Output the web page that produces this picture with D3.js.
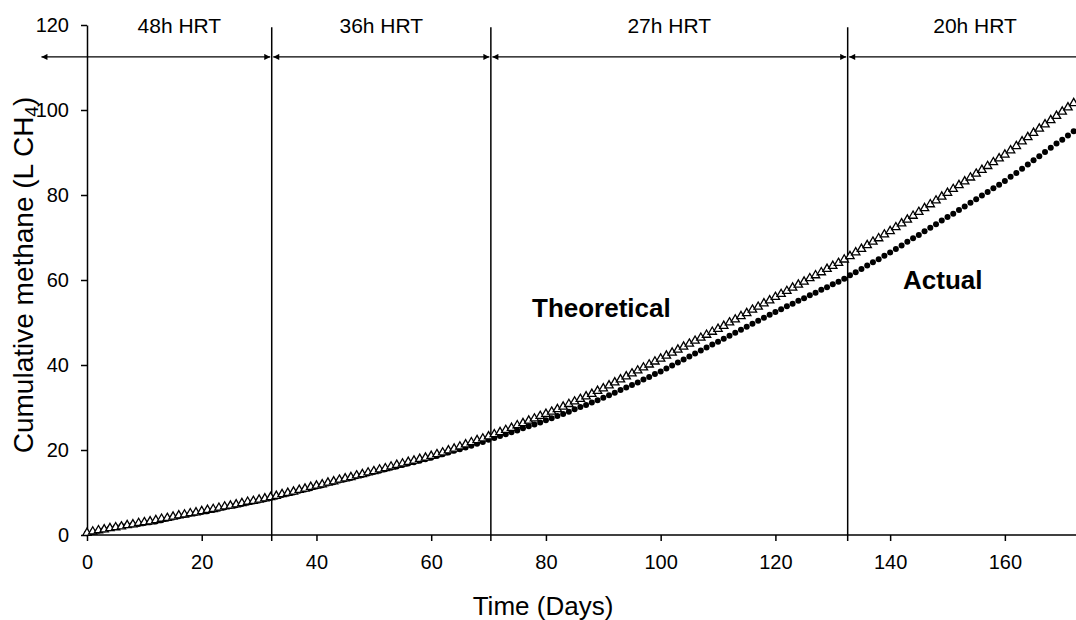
<!DOCTYPE html>
<meta charset="utf-8">
<html>
<head>
	<script src="https://d3js.org/d3.v7.min.js"></script>
	<style>
		body { margin: 0; background: #fff; }
		text { font-family: Arial, "Liberation Sans", sans-serif; fill: #000; }
	</style>
</head>
<body>
<div id="chart"></div>
<script>

// cumulative methane, one value per day starting at day 0
var theoretical = [
  0.5,0.8,1.1,1.3,1.6,1.8,2.0,2.3,2.5,2.8,3.0,
  3.2,3.5,3.8,4.0,4.3,4.6,4.8,5.1,5.3,5.6,
  5.9,6.1,6.4,6.7,6.9,7.2,7.5,7.8,8.0,8.3,8.6,8.9,
  9.2,9.6,9.9,10.2,10.6,10.9,11.3,11.6,
  11.9,12.3,12.6,13.0,13.3,13.6,14.0,14.3,14.7,15.0,
  15.4,15.7,16.1,16.5,16.8,17.2,17.5,17.9,18.2,18.6,
  19.0,19.4,19.9,20.3,20.8,21.3,21.8,22.3,22.7,23.2,
  23.7,24.2,24.7,25.2,25.8,26.3,26.9,27.4,28.0,28.5,
  29.0,29.6,30.2,30.8,31.4,32.0,32.6,33.2,33.9,34.5,
  35.2,35.9,36.6,37.3,38.0,38.7,39.4,40.1,40.8,41.5,
  42.2,42.9,43.6,44.3,45.0,45.7,46.4,47.1,47.8,48.5,
  49.2,50.0,50.7,51.5,52.2,53.0,53.7,54.5,55.2,56.0,
  56.7,57.4,58.2,58.9,59.6,60.4,61.1,61.8,62.6,63.3,64.0,64.8,
  65.6,66.5,67.3,68.2,69.0,69.8,70.7,71.5,
  72.4,73.3,74.2,75.1,76.0,76.9,77.8,78.7,79.6,80.5,
  81.4,82.3,83.2,84.1,85.0,85.9,86.8,87.7,88.6,89.5,
  90.5,91.5,92.6,93.6,94.6,95.6,96.6,97.6,98.6,99.6,100.6,101.6
];
var actual = [
  0.4,0.7,1.0,1.3,1.6,1.9,2.1,2.3,2.5,2.6,2.8,
  3.0,3.2,3.5,3.8,4.1,4.4,4.7,5.0,5.2,5.4,
  5.6,5.9,6.2,6.5,6.8,7.0,7.3,7.6,7.9,8.1,8.4,8.7,
  9.0,9.4,9.7,10.0,10.4,10.7,11.0,11.4,
  11.7,12.1,12.4,12.8,13.1,13.4,13.8,14.1,14.5,14.8,
  15.1,15.5,15.8,16.1,16.5,16.8,17.1,17.5,17.8,18.2,
  18.6,19.0,19.4,19.8,20.2,20.6,21.0,21.5,21.9,22.4,
  22.8,23.3,23.7,24.2,24.6,25.1,25.6,26.0,26.5,27.0,
  27.5,28.0,28.5,29.0,29.6,30.1,30.6,31.2,31.7,32.3,
  32.9,33.5,34.1,34.7,35.3,35.9,36.6,37.2,37.9,38.5,
  39.2,39.9,40.6,41.3,42.0,42.7,43.4,44.1,44.8,45.5,
  46.2,46.9,47.6,48.3,49.0,49.7,50.4,51.1,51.8,52.5,
  53.1,53.8,54.4,55.1,55.7,56.4,57.0,57.7,58.3,59.0,59.6,60.3,
  61.1,61.8,62.6,63.4,64.2,64.9,65.7,66.5,
  67.3,68.1,69.0,69.8,70.6,71.5,72.3,73.1,74.0,74.8,
  75.6,76.5,77.3,78.2,79.0,79.9,80.7,81.6,82.4,83.3,
  84.3,85.2,86.2,87.2,88.2,89.1,90.1,91.1,92.1,93.0,94.0,95.0
];

// HRT periods (day boundaries) and their labels
var periodLabels = ["48h HRT", "36h HRT", "27h HRT", "20h HRT"];
var periodBounds = [0, 32.2, 70.4, 132.6, 177];
var arrowStart = -8.2;
var xTicks = [0, 20, 40, 60, 80, 100, 120, 140, 160];
var yTicks = [0, 20, 40, 60, 80, 100, 120];

var width = 1076, height = 620;
var margin = {top: 25, right: 0, bottom: 85, left: 87};

var svg = d3.select("#chart")
  .append("svg")
    .attr("width", width)
    .attr("height", height);

var x = d3.scaleLinear()
  .domain([0, 172.4])
  .range([margin.left, width - margin.right]);

var y = d3.scaleLinear()
  .domain([0, 120])
  .range([height - margin.bottom, margin.top]);

// axes
var xAxis = svg.append("g")
  .attr("transform", "translate(0," + y(0) + ")")
  .call(d3.axisBottom(x).tickValues(xTicks).tickSize(6).tickPadding(14).tickSizeOuter(0));
var yAxis = svg.append("g")
  .attr("transform", "translate(" + x(0) + ",0)")
  .call(d3.axisLeft(y).tickValues(yTicks).tickSize(6).tickPadding(12).tickSizeOuter(0));

[xAxis, yAxis].forEach(function(a) {
  a.select(".domain").attr("stroke", "#000").attr("stroke-width", 1.5);
  a.selectAll(".tick line").attr("stroke", "#000").attr("stroke-width", 1.5);
  a.selectAll(".tick text").style("font-size", "20px").attr("fill", "#000");
});
xAxis.select(".domain").attr("d", "M" + x(0) + ",0H" + width);
yAxis.selectAll(".tick text").attr("x", -18);

// vertical period separators
svg.selectAll("line.sep")
  .data(periodBounds.slice(1, 4))
  .enter()
  .append("line")
    .attr("class", "sep")
    .attr("x1", function(d) { return x(d); })
    .attr("x2", function(d) { return x(d); })
    .attr("y1", y(119.5))
    .attr("y2", y(-1.4))
    .attr("stroke", "#000")
    .attr("stroke-width", 1.5);

// arrow heads
var defs = svg.append("defs");
defs.append("marker")
    .attr("id", "ah")
    .attr("viewBox", "0 0 10 10")
    .attr("refX", 10)
    .attr("refY", 5)
    .attr("markerWidth", 7)
    .attr("markerHeight", 6)
    .attr("markerUnits", "userSpaceOnUse")
    .attr("orient", "auto-start-reverse")
  .append("path")
    .attr("d", "M0,0L10,5L0,10z")
    .attr("fill", "#000");

var segs = periodLabels.map(function(l, i) {
  return {
    label: l,
    from: i === 0 ? arrowStart : periodBounds[i],
    to: periodBounds[i + 1],
    mid: (periodBounds[i] + periodBounds[i + 1]) / 2
  };
});

svg.selectAll("line.arrow")
  .data(segs)
  .enter()
  .append("line")
    .attr("class", "arrow")
    .attr("x1", function(d) { return x(d.from) + 1.5; })
    .attr("x2", function(d) { return x(d.to) - 1.5; })
    .attr("y1", y(112.5))
    .attr("y2", y(112.5))
    .attr("stroke", "#000")
    .attr("stroke-width", 1.3)
    .attr("marker-start", "url(#ah)")
    .attr("marker-end", "url(#ah)");

svg.selectAll("text.period")
  .data(segs)
  .enter()
  .append("text")
    .attr("class", "period")
    .attr("x", function(d) { return x(d.mid); })
    .attr("y", 33)
    .attr("text-anchor", "middle")
    .style("font-size", "21px")
    .text(function(d) { return d.label; });

// data points
svg.append("g")
  .selectAll("circle")
  .data(actual)
  .enter()
  .append("circle")
    .attr("cx", function(d, i) { return x(i); })
    .attr("cy", function(d) { return y(d); })
    .attr("r", 3)
    .attr("fill", "#000");

var tri = d3.symbol().type(d3.symbolTriangle).size(30);
svg.append("g")
  .selectAll("path")
  .data(theoretical)
  .enter()
  .append("path")
    .attr("transform", function(d, i) { return "translate(" + x(i) + "," + y(d) + ")"; })
    .attr("d", tri)
    .attr("fill", "#fff")
    .attr("stroke", "#000")
    .attr("stroke-width", 1.3);

// series labels
svg.append("text")
  .attr("x", 532)
  .attr("y", 317)
  .style("font-size", "26px")
  .style("font-weight", "bold")
  .text("Theoretical");
svg.append("text")
  .attr("x", 903)
  .attr("y", 289)
  .style("font-size", "26px")
  .style("font-weight", "bold")
  .text("Actual");

// axis titles
svg.append("text")
  .attr("x", 543)
  .attr("y", 615)
  .attr("text-anchor", "middle")
  .style("font-size", "26px")
  .text("Time (Days)");

var yt = svg.append("text")
  .attr("transform", "translate(33," + 275 + ") rotate(-90)")
  .attr("text-anchor", "middle")
  .style("font-size", "28px");
yt.append("tspan").text("Cumulative methane (L CH");
yt.append("tspan").attr("dy", 5).style("font-size", "19px").text("4");
yt.append("tspan").attr("dy", -5).text(")");

</script>
</body>
</html>
